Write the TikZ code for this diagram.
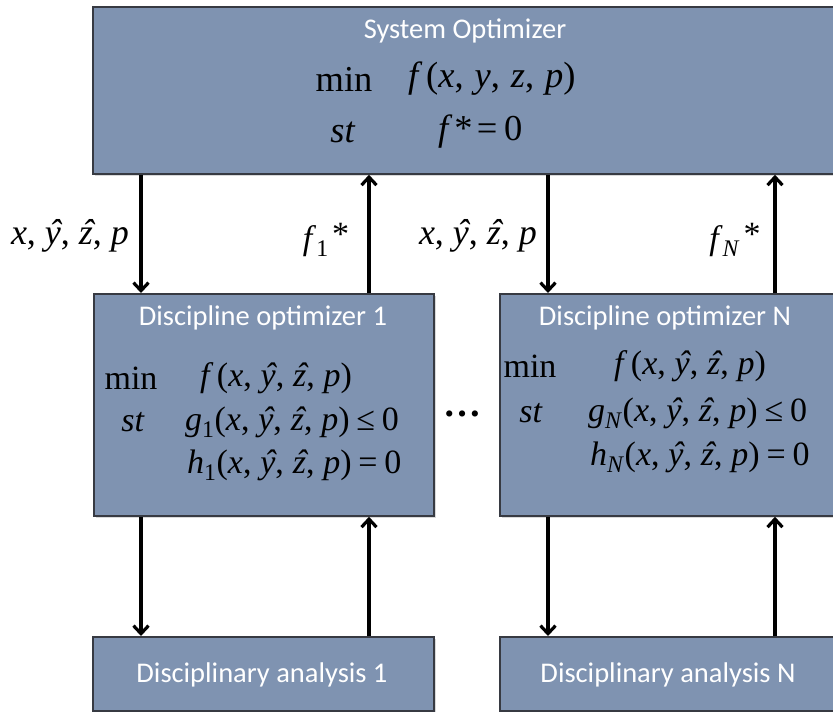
\documentclass[tikz,border=0pt]{standalone}
\usepackage{fontspec}
\setmainfont{Liberation Serif}
\newfontfamily\calfont{Carlito}
\usetikzlibrary{arrows.meta,calc,shadows}
\definecolor{boxfill}{RGB}{127,147,177}
\definecolor{boxline}{RGB}{55,58,66}
\newcommand\hatl[1]{{\ooalign{\textit{#1}\cr\hidewidth\kern0.15em\textit{\char"02C6}\hidewidth\cr}}}
\newcommand\mi[1]{\textit{#1}}
\newcommand\cs{,\kern0.26em}
\newcommand\argsh{(\mi{x}\cs\hatl{y}\cs\hatl{z}\cs\mi{p})}
\tikzset{
  box/.style={draw=boxline, line width=1.8pt, fill=boxfill, inner sep=0pt, anchor=north west,
    drop shadow={shadow xshift=2pt, shadow yshift=-2pt, opacity=0.3}},
  ttl/.style={text=white, font=\calfont\fontsize{28.5}{32}\selectfont, inner sep=0pt},
  mth/.style={font=\fontsize{34}{38}\selectfont, inner sep=0pt},
  bigmth/.style={font=\fontsize{36.5}{40}\selectfont, inner sep=0pt},
  lbl/.style={font=\fontsize{36}{40}\selectfont, inner sep=0pt},
  arr/.style={line width=3.2pt, -{Straight Barb[length=8pt,width=15pt]}}
}
\begin{document}
\begin{tikzpicture}[x=1pt,y=-1pt]
\useasboundingbox (0,0) rectangle (833,712);
\clip (0,0) rectangle (833,712);
% boxes
\node[box, minimum width=760pt, minimum height=167pt] (sys) at (92,6) {};
\node[box, minimum width=340pt, minimum height=222pt] (d1) at (93,293) {};
\node[box, minimum width=360pt, minimum height=222pt] (dN) at (499,293) {};
\node[box, minimum width=341pt, minimum height=74pt] (a1) at (92,636) {};
\node[box, minimum width=360pt, minimum height=74pt] (aN) at (499,636) {};
% system optimizer text
\node[ttl] (systtl) at (465,31) {System Optimizer};
\node[bigmth] (sysmin) at (344,79) {min};
\node[bigmth, anchor=west] (sysf) at (408,79) {\mi{f}\kern0.1em(\mi{x},\kern0.3em\mi{y},\kern0.3em\mi{z},\kern0.3em\mi{p})};
\node[bigmth] (sysst) at (343,132) {\mi{st}};
\node[bigmth, anchor=west] (sysc) at (438,132) {\mi{f}\kern0.05em*\kern0.12em=\kern0.18em0};
% discipline optimizer 1
\node[ttl] (d1ttl) at (263,318) {Discipline optimizer 1};
\node[mth] (d1min) at (131,378) {min};
\node[mth, anchor=west] (d1f) at (200,378) {\mi{f}\kern0.1em\argsh};
\node[mth] (d1st) at (133,422) {\mi{st}};
\node[mth, anchor=west] (d1g) at (185,422) {\mi{g}\textsubscript{1}\argsh\kern0.2em≤\kern0.2em0};
\node[mth, anchor=west] (d1h) at (187,465) {\mi{h}\textsubscript{1}\argsh\kern0.2em=\kern0.2em0};
% discipline optimizer N
\node[ttl] (dNttl) at (665,318) {Discipline optimizer N};
\node[mth] (dNmin) at (530,366) {min};
\node[mth, anchor=west] (dNf) at (614,366) {\mi{f}\kern0.1em\argsh};
\node[mth] (dNst) at (531,413) {\mi{st}};
\node[mth, anchor=west] (dNg) at (588,413) {\mi{g}\textsubscript{\mi{N}}\argsh\kern0.2em≤\kern0.2em0};
\node[mth, anchor=west] (dNh) at (590,457) {\mi{h}\textsubscript{\mi{N}}\argsh\kern0.2em=\kern0.2em0};
% dots
\node[lbl, font=\bfseries\fontsize{38}{40}\selectfont] (dots) at (462,414) {…};
% analysis
\node[ttl] (a1ttl) at (262,675) {Disciplinary analysis 1};
\node[ttl] (aNttl) at (668,675) {Disciplinary analysis N};
% arrow anchor points
\coordinate (p1) at ([xshift=48pt]d1.north west);
\coordinate (p2) at ([xshift=276pt]d1.north west);
\coordinate (p3) at ([xshift=49pt]dN.north west);
\coordinate (p4) at ([xshift=276pt]dN.north west);
\draw[arr] (p1 |- sys.south) -- (p1);
\draw[arr] (p2) -- (p2 |- sys.south);
\draw[arr] (p3 |- sys.south) -- (p3);
\draw[arr] (p4) -- (p4 |- sys.south);
\draw[arr] (p1 |- d1.south) -- (p1 |- a1.north);
\draw[arr] (p2 |- a1.north) -- (p2 |- d1.south);
\draw[arr] (p3 |- dN.south) -- (p3 |- aN.north);
\draw[arr] (p4 |- aN.north) -- (p4 |- dN.south);
% labels
\node[lbl] (l1) at (70,240) {\mi{x}, \hatl{y}, \hatl{z}, \mi{p}};
\node[lbl, font=\fontsize{34}{38}\selectfont] (l2) at (326,240) {\mi{f}\textsubscript{1}\kern0.1em\raisebox{0.1em}{*}};
\node[lbl] (l3) at (478,240) {\mi{x}, \hatl{y}, \hatl{z}, \mi{p}};
\node[lbl, font=\fontsize{34}{38}\selectfont] (l4) at (735,240) {\mi{f}\textsubscript{\mi{N}}\kern0.1em\raisebox{0.1em}{*}};
\end{tikzpicture}
\end{document}
